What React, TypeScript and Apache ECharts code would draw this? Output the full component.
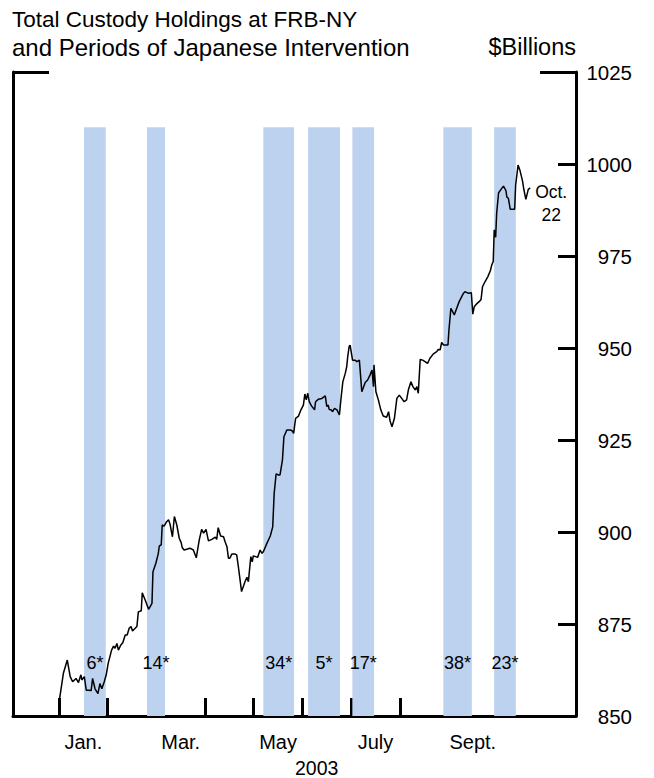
import { useEffect, useRef } from "react";
import * as echarts from "echarts";

// x positions in months from Jan. 1, 2003 (0 = Jan. 1, 1 = Feb. 1, ...)
const monthPos = [
  0.01, 0.09, 0.17, 0.23, 0.28, 0.35, 0.4, 0.45, 0.47, 0.52, 0.56, 0.6, 0.66, 0.69, 0.74, 0.8, 0.84, 0.88, 0.93, 0.97,
  1.01, 1.08, 1.12, 1.15, 1.19, 1.22, 1.27, 1.31, 1.36, 1.4, 1.44, 1.48, 1.51, 1.6, 1.63, 1.69, 1.71, 1.77, 1.84, 1.91,
  1.93, 1.99, 2.04, 2.06, 2.1, 2.12, 2.16, 2.21, 2.25, 2.28, 2.33, 2.37, 2.42, 2.47, 2.51, 2.53, 2.57, 2.62, 2.69, 2.76,
  2.82, 2.88, 2.93, 2.97, 3.02, 3.07, 3.14, 3.21, 3.24, 3.27, 3.32, 3.38, 3.41, 3.45, 3.48, 3.51, 3.55, 3.62, 3.65, 3.68,
  3.72, 3.75, 3.79, 3.82, 3.86, 3.89, 3.94, 3.97, 3.99, 4.04, 4.08, 4.13, 4.17, 4.2, 4.27, 4.34, 4.39, 4.42, 4.46, 4.51,
  4.54, 4.59, 4.62, 4.68, 4.75, 4.79, 4.82, 4.86, 4.92, 4.97, 5.02, 5.05, 5.08, 5.11, 5.14, 5.19, 5.25, 5.27, 5.33, 5.4,
  5.47, 5.5, 5.53, 5.55, 5.59, 5.62, 5.66, 5.71, 5.76, 5.79, 5.83, 5.88, 5.91, 5.93, 5.96, 5.98, 6.03, 6.08, 6.12, 6.17,
  6.22, 6.29, 6.34, 6.39, 6.43, 6.46, 6.47, 6.51, 6.56, 6.61, 6.66, 6.73, 6.77, 6.8, 6.84, 6.89, 6.94, 6.99, 7.04, 7.09,
  7.14, 7.18, 7.23, 7.27, 7.32, 7.35, 7.38, 7.42, 7.47, 7.52, 7.57, 7.62, 7.69, 7.76, 7.79, 7.83, 7.86, 7.9, 7.99, 8.01,
  8.05, 8.12, 8.17, 8.22, 8.27, 8.31, 8.34, 8.4, 8.47, 8.5, 8.53, 8.58, 8.63, 8.67, 8.7, 8.75, 8.81, 8.86, 8.89, 8.92,
  8.94, 8.97, 8.99, 9.03, 9.08, 9.13, 9.18, 9.2, 9.23, 9.27, 9.36, 9.38, 9.43, 9.47, 9.52, 9.55, 9.59, 9.64, 9.68,
];

// Total custody holdings, $ billions
const holdings = [
  854.5, 861.6, 865.2, 860.7, 859.3, 860.2, 859.1, 861.2, 859.8, 860.7, 857.0, 857.0, 856.9, 860.2, 857.4, 856.1, 858.8, 857.4, 859.3, 861.2,
  864.3, 867.9, 869.0, 868.4, 869.7, 867.9, 869.3, 869.9, 872.0, 872.0, 873.8, 874.3, 873.1, 874.3, 878.3, 878.6, 883.5, 881.5, 879.0, 880.6,
  889.2, 891.5, 894.2, 896.2, 896.5, 901.9, 901.6, 902.8, 903.3, 902.2, 898.7, 904.2, 901.9, 898.3, 897.1, 895.8, 895.1, 895.3, 895.6, 895.1,
  893.0, 897.8, 900.7, 899.7, 900.7, 897.6, 898.0, 898.6, 898.0, 901.2, 898.9, 898.7, 897.4, 896.0, 892.9, 892.9, 894.0, 894.0, 893.8, 891.0,
  886.9, 883.8, 885.3, 886.5, 887.7, 886.5, 893.3, 891.9, 893.5, 893.3, 893.1, 895.1, 894.2, 894.7, 896.9, 898.9, 901.4, 910.5, 915.8, 915.5,
  915.5, 919.6, 925.9, 927.7, 927.7, 927.5, 926.8, 930.9, 931.5, 933.2, 934.5, 937.5, 935.9, 937.7, 935.4, 934.2, 933.2, 935.4, 936.1, 936.3,
  937.0, 934.1, 934.5, 933.3, 933.2, 932.7, 933.6, 933.2, 931.8, 935.9, 940.8, 943.1, 944.9, 947.6, 950.4, 950.8, 946.7, 946.7, 946.3, 946.7,
  938.1, 940.6, 941.3, 942.7, 944.0, 939.5, 945.4, 938.1, 935.9, 933.2, 931.5, 931.2, 932.7, 930.2, 928.6, 930.9, 936.3, 937.2, 936.3, 935.4,
  935.9, 938.8, 940.8, 939.5, 938.6, 939.5, 937.7, 946.9, 946.7, 946.3, 945.8, 947.2, 948.4, 949.0, 949.6, 949.5, 951.5, 950.8, 950.8, 954.9,
  960.8, 959.0, 960.8, 962.6, 963.9, 964.9, 965.3, 964.9, 965.0, 959.2, 961.2, 962.0, 962.6, 963.2, 966.7, 968.0, 969.4, 971.0, 972.6, 973.5,
  982.1, 980.1, 986.6, 992.2, 993.1, 994.0, 992.8, 991.0, 990.7, 987.7, 987.7, 994.3, 999.7, 998.2, 995.5, 993.0, 990.4, 993.1, 993.5,
];

// Periods of Japanese intervention (month positions) and number of days
const bandStart = [0.514, 1.808, 4.198, 5.116, 6.026, 7.896, 8.938];
const bandEnd = [0.96, 2.178, 4.828, 5.773, 6.472, 8.48, 9.383];
const bandLabels = ["6*", "14*", "34*", "5*", "17*", "38*", "23*"];
const bandTop = 1010;
const bandLabelLevel = 864.5;

// Axes
const monthTicks = [0, 1, 2, 3, 4, 5, 6, 7, 8, 9];
const monthLabelPos = [0.5, 2.5, 4.5, 6.5, 8.5];
const monthLabels = ["Jan.", "Mar.", "May", "July", "Sept."];
const yMin = 850;
const yMax = 1025;
const yStep = 25;

// End-of-series note
const endNote = "Oct.\n22";
const endNotePos = [10.11, 989.3];

const FONT = "'Liberation Sans', Arial, Helvetica, sans-serif";

export default function App() {
  const ref = useRef<HTMLDivElement>(null);

  useEffect(() => {
    const chart = echarts.init(ref.current!, null, { renderer: "svg" });
    const lineData = monthPos.map((m, i) => [m, holdings[i]]);
    const bandData = bandStart.map((s, i) => [s, bandEnd[i]]);
    const labelData = bandStart.map((s, i) => [(s + bandEnd[i]) / 2, bandLabelLevel, i]);

    const titleStyle = (size: number) => ({
      fontSize: size,
      lineHeight: 28,
      fontWeight: "normal",
      color: "#000",
      fontFamily: FONT,
    });

    const option: any = {
      animation: false,
      backgroundColor: "#ffffff",
      textStyle: { fontFamily: FONT },
      title: [
        { text: "Total Custody Holdings at FRB-NY", left: 12, top: 5, padding: 0, textStyle: titleStyle(22.5) },
        { text: "and Periods of Japanese Intervention", left: 12, top: 33, padding: 0, textStyle: titleStyle(24) },
        { text: "$Billions", right: 78, top: 33, padding: 0, textStyle: titleStyle(23.5) },
        {
          text: "2003",
          left: 295,
          top: 757,
          padding: 0,
          textStyle: { fontSize: 19.5, lineHeight: 22, fontWeight: "normal", color: "#000", fontFamily: FONT },
        },
      ],
      grid: { left: 13, right: 78, top: 72, bottom: 62, containLabel: false },
      xAxis: {
        type: "value",
        min: -0.945,
        max: 10.62,
        axisLine: { show: true, onZero: false, lineStyle: { color: "#000", width: 3 } },
        axisTick: {
          show: true,
          inside: true,
          length: 18,
          customValues: monthTicks,
          lineStyle: { color: "#000", width: 3 },
        },
        axisLabel: {
          show: true,
          customValues: monthLabelPos,
          margin: 16,
          fontSize: 20,
          color: "#000",
          fontFamily: FONT,
          formatter: (v: number) => {
            const i = monthLabelPos.findIndex((p) => Math.abs(p - v) < 1e-6);
            return i >= 0 ? monthLabels[i] : "";
          },
        },
        splitLine: { show: false },
      },
      yAxis: [
        {
          type: "value",
          position: "right",
          min: yMin,
          max: yMax,
          interval: yStep,
          axisLine: { show: true, onZero: false, lineStyle: { color: "#000", width: 3 } },
          axisTick: { show: true, inside: true, length: 18, lineStyle: { color: "#000", width: 3 } },
          axisLabel: {
            show: true,
            align: "right",
            margin: 56,
            fontSize: 20.5,
            color: "#000",
            fontFamily: FONT,
            formatter: (v: number) => String(v),
          },
          splitLine: { show: false },
        },
        {
          type: "value",
          position: "left",
          min: yMin,
          max: yMax,
          axisLine: { show: true, onZero: false, lineStyle: { color: "#000", width: 3 } },
          axisTick: { show: true, inside: true, length: 36, customValues: [yMax], lineStyle: { color: "#000", width: 3 } },
          axisLabel: { show: false },
          splitLine: { show: false },
        },
        {
          type: "value",
          position: "right",
          min: yMin,
          max: yMax,
          axisLine: { show: false, onZero: false },
          axisTick: { show: true, inside: true, length: 36, customValues: [yMax], lineStyle: { color: "#000", width: 3 } },
          axisLabel: { show: false },
          splitLine: { show: false },
        },
      ],
      series: [
        {
          type: "custom",
          name: "Intervention",
          z: 1,
          silent: true,
          data: bandData,
          renderItem: (params: any, api: any) => {
            const p0 = api.coord([api.value(0), bandTop]);
            const p1 = api.coord([api.value(1), yMin]);
            return {
              type: "rect",
              shape: { x: p0[0], y: p0[1], width: p1[0] - p0[0], height: p1[1] - p0[1] },
              style: { fill: "#bdd2ee" },
            };
          },
        },
        {
          type: "custom",
          name: "Days",
          z: 4,
          silent: true,
          data: labelData,
          renderItem: (params: any, api: any) => {
            const p = api.coord([api.value(0), api.value(1)]);
            return {
              type: "text",
              x: p[0],
              y: p[1],
              style: {
                text: bandLabels[api.value(2)],
                fill: "#000",
                fontSize: 18,
                fontFamily: FONT,
                align: "center",
                verticalAlign: "middle",
              },
            };
          },
        },
        {
          type: "line",
          name: "Holdings",
          z: 3,
          data: lineData,
          showSymbol: false,
          symbol: "none",
          lineStyle: { color: "#000", width: 1.5 },
        },
        {
          type: "custom",
          name: "Note",
          z: 4,
          silent: true,
          data: [endNotePos],
          renderItem: (params: any, api: any) => {
            const p = api.coord([api.value(0), api.value(1)]);
            return {
              type: "text",
              x: p[0],
              y: p[1],
              style: {
                text: endNote,
                fill: "#000",
                fontSize: 17.5,
                lineHeight: 23,
                fontFamily: FONT,
                align: "center",
                verticalAlign: "middle",
              },
            };
          },
        },
      ],
    };

    chart.setOption(option);
    return () => chart.dispose();
  }, []);

  return (
    <div
      ref={ref}
      style={{ position: "fixed", left: 0, top: 0, width: 654, height: 778, background: "#fff" }}
    />
  );
}
